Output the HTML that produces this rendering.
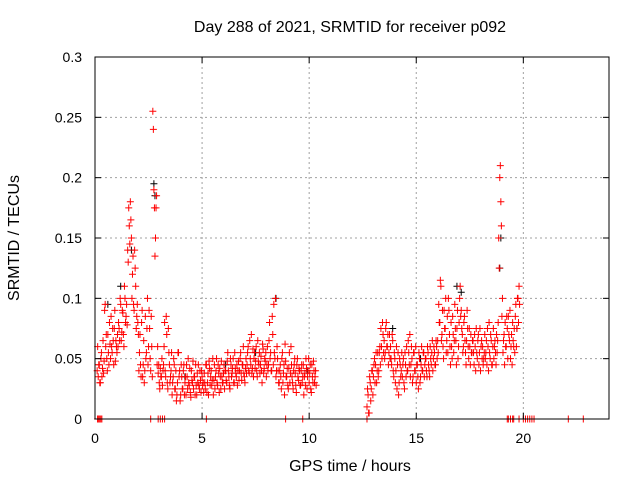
<!DOCTYPE html>
<html><head><meta charset="utf-8"><style>
html,body{margin:0;padding:0;background:#fff}
svg{display:block;font-family:"Liberation Sans",sans-serif}
</style></head><body>
<svg id="chart" width="640" height="480" viewBox="0 0 640 480" xmlns="http://www.w3.org/2000/svg">
<rect x="0" y="0" width="640" height="480" fill="#fff"/>
<g id="grid"></g>
<g id="black"></g>
<g id="pts"></g>
<rect x="95" y="57" width="514" height="362" fill="none" stroke="#000" stroke-width="1"/>
<g id="ticks"></g>
<text x="350" y="32" font-size="16" text-anchor="middle">Day 288 of 2021, SRMTID for receiver p092</text>
<text x="350" y="471" font-size="16" text-anchor="middle">GPS time / hours</text>
<text transform="translate(19,238) rotate(-90)" font-size="16" text-anchor="middle">SRMTID / TECUs</text>
</svg>
<script>
// values in milli-TECU
const xTicks = [0,5,10,15,20];
const yTicks = [0,0.05,0.1,0.15,0.2,0.25,0.3];
const yTickLabels = ["0","0.05","0.1","0.15","0.2","0.25","0.3"];
const seg1Start = 0.10, seg1Step = 0.05;
const seg1A = [40,35,45,30,55,42,38,90,60,
50,70,45,62,85,55,65,75,48,60,
70,80,65,95,72,88,60,100,85,78,
130,160,180,150,120,95,140,110,85,80,
40,70,35,90,45,30,85,55,100,60,
75,40,60,255,
190,135,175,45,
38,30,42,35,28,
45,80,35,70,25,55,30,40,
20,35,45,25,15,30,55,40,20,35,
25,45,30,20,35,50,28,22,40,30,25,35,45,20,30,28,40,22,35,30,
38,25,45,30,20,42,35,28,50,32,25,40,30,45,22,35,48,30,38,25,
40,30,55,35,25,45,38,50,30,42,35,28,48,40,55,32,45,38,30,50,
45,60,38,50,70,42,35,55,48,40,65,45,38,52,30,58,42,48,35,60,
45,80,55,40,70,95,50,35,60,40,
30,45,25,55,38,20,48,35,28,42,30,60,35,25,45,38,22,50,32,40,
28,45,35,20,38,50,25,40,30,45,22,35,48,30,40];
const seg1B = [60,45,30,50,35,65,48,95,70,
40,55,80,50,60,75,45,90,65,55,
60,75,100,65,90,70,110,80,95,140,
175,145,165,100,135,90,125,75,95,70,
55,45,80,35,65,40,50,75,45,90,
50,85,35,240,
175,150,185,60,
45,25,35,50,40,
60,40,85,30,75,45,35,55,
30,50,25,40,20,55,35,15,45,25,
40,20,35,45,25,30,42,18,32,48,35,20,28,38,45,25,32,40,28,22,
30,45,22,38,48,28,40,32,20,45,35,50,28,38,42,25,35,30,45,40,
32,48,40,28,50,35,42,30,55,38,45,40,32,50,38,45,60,35,42,38,
55,40,65,45,38,58,50,42,60,35,48,55,45,40,62,38,50,55,45,40,
65,50,40,85,45,55,100,40,50,30,
40,35,50,30,45,62,35,42,25,55,38,45,30,40,50,28,45,35,42,28,
40,30,45,35,28,42,35,50,38,25,45,30,40,35,28];
const seg2Start = 12.70, seg2Step = 0.05;
const seg2A = [10,20,5,30,25,40,35,50,45,30,55,
40,60,75,50,70,65,55,80,60,45,70,
60,45,65,35,50,40,25,55,30,45,40,
35,50,25,45,60,40,55,70,45,50,35,
55,40,30,45,25,50,35,60,40,55,45,
50,35,55,40,60,45,65,50,55,45,60,
65,95,80,110,70,60,90,75,55,85,100,
70,45,60,85,55,95,65,75,50,80,110,
90,70,60,85,55,65,75,50,60,70,55,
65,45,60,75,50,70,55,40,65,60,50,
70,55,45,60,80,50,65,45,75,60,55,
70,65,150,200,180,85,55,70,80,60,75,
85,65,50,70,80,60,55,95,75,100,110];
const seg2B = [25,5,35,15,40,20,45,30,55,40,35,
55,45,60,80,55,50,75,60,70,55,50,
50,70,40,55,30,60,45,20,50,35,55,
45,30,55,35,40,65,45,35,60,30,55,
40,60,45,35,55,30,45,40,55,35,50,
40,60,45,35,50,55,40,60,45,65,50,
55,80,115,65,90,50,75,100,65,55,90,
60,80,50,70,65,75,45,90,60,100,85,
75,55,80,65,45,90,60,75,45,55,65,
55,70,40,55,65,45,75,60,50,45,55,
50,65,75,40,55,70,45,60,50,65,45,
55,80,125,210,160,100,65,45,60,85,50,
70,90,60,45,65,75,85,60,100,80,95];
const zeroTimes = [0.12,0.17,0.22,0.27,0.32,2.6,2.95,3.05,3.15,3.25,5.2,8.9,9.7,12.7,19.25,19.3,19.4,19.5,19.55,19.8,20.0,20.1,20.2,20.3,20.4,20.5,22.1,22.8];
const blackTimes = [0.6,1.2,1.7,2.75,2.8,4.2,6.1,7.5,8.45,9.9,13.9,15.2,16.9,17.1,18.9,18.95,19.7];
const blackVals = [95,110,140,195,185,35,45,55,100,40,75,50,110,105,125,150,75];

const NS = "http://www.w3.org/2000/svg";
const X0 = 95, X1 = 609, Y0 = 419, Y1 = 57, XMAX = 24, YMAX = 0.3;
function xs(t){ return X0 + (X1 - X0) * t / XMAX; }
function ys(v){ return Y0 - (Y0 - Y1) * v / YMAX; }
const grid = document.getElementById('grid');
const ticks = document.getElementById('ticks');
function mk(tag, attrs, parent){ const e = document.createElementNS(NS, tag); for (const k in attrs) e.setAttribute(k, attrs[k]); parent.appendChild(e); return e; }
xTicks.forEach(t => {
  const x = xs(t);
  if (t > 0) {
    const g = mk('line', {x1:x, y1:Y0, x2:x, y2:Y1, stroke:'#a0a0a0', 'stroke-dasharray':'2,3'}, grid);
    
    
  }
  mk('line', {x1:x, y1:Y0, x2:x, y2:Y0-6, stroke:'#000'}, ticks);
  mk('line', {x1:x, y1:Y1, x2:x, y2:Y1+6, stroke:'#000'}, ticks);
  const tx = mk('text', {x:x, y:443, 'font-size':14, 'text-anchor':'middle'}, ticks);
  tx.textContent = String(t);
  
  
});
yTicks.forEach((v, i) => {
  const y = ys(v);
  if (v > 0 && v < YMAX) {
    const g = mk('line', {x1:X0, y1:y, x2:X1, y2:y, stroke:'#a0a0a0', 'stroke-dasharray':'2,3'}, grid);
    
    
  }
  mk('line', {x1:X0, y1:y, x2:X0+6, y2:y, stroke:'#000'}, ticks);
  mk('line', {x1:X1, y1:y, x2:X1-6, y2:y, stroke:'#000'}, ticks);
  const tx = mk('text', {x:82, y:y+5, 'font-size':14, 'text-anchor':'end'}, ticks);
  tx.textContent = yTickLabels[i];
  
  
});
function plus(t, v, color, parent){
  const x = xs(t), y = ys(v);
  const p = mk('path', {d:`M${x-3.5} ${y}H${x+3.5}M${x} ${y-3.5}V${y+3.5}`, stroke:color, 'stroke-width':1, fill:'none'}, parent);
  
  
}
const pts = document.getElementById('pts');
const blk = document.getElementById('black');
blackTimes.forEach((t, i) => plus(t, blackVals[i] / 1000, '#000', blk));
[seg1A, seg1B].forEach((arr, k) => arr.forEach((v, i) => plus(seg1Start + seg1Step * i + k * 0.025, v / 1000, '#ff0000', pts)));
[seg2A, seg2B].forEach((arr, k) => arr.forEach((v, i) => plus(seg2Start + seg2Step * i + k * 0.025, v / 1000, '#ff0000', pts)));
zeroTimes.forEach(t => plus(t, 0, '#ff0000', pts));
</script>
</body></html>
